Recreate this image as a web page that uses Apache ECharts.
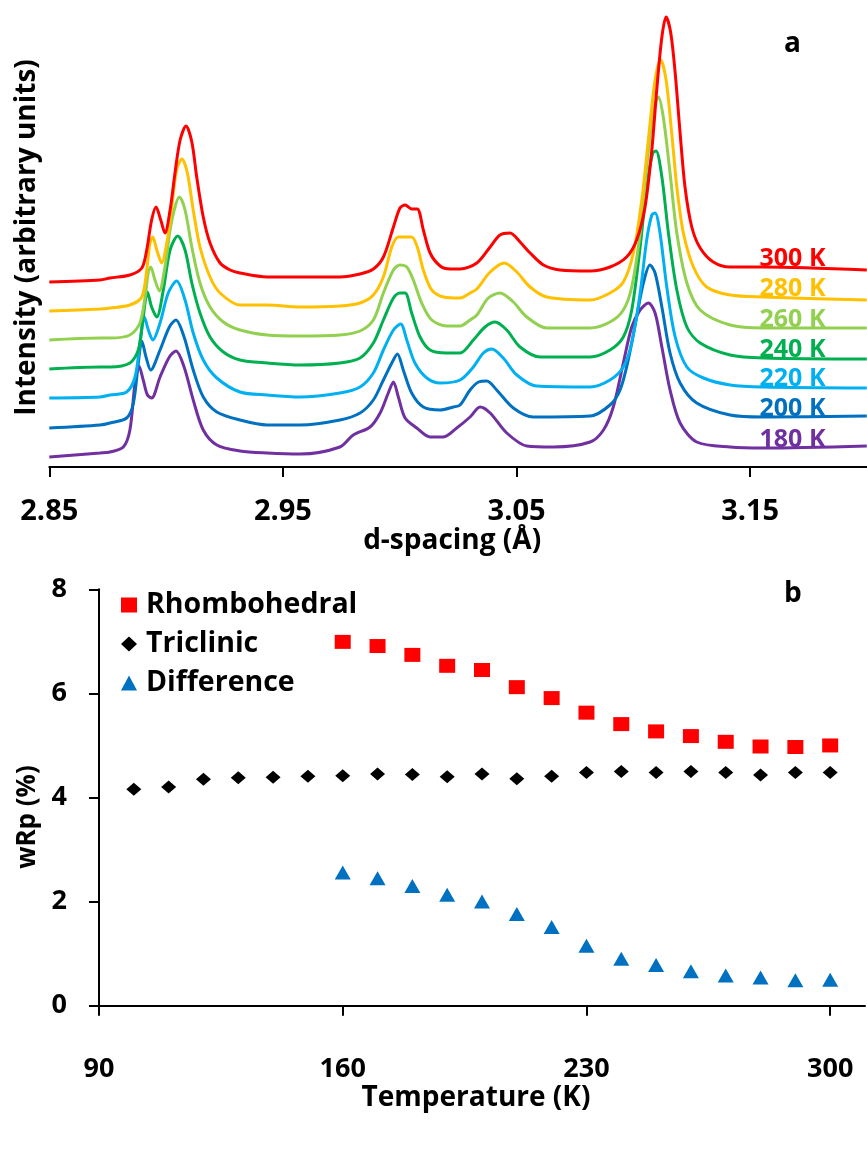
<!DOCTYPE html>
<html>
<head>
<meta charset="utf-8">
<script src="https://cdn.jsdelivr.net/npm/echarts@6/dist/echarts.min.js"></script>
<style>
html,body{margin:0;padding:0;background:#ffffff;}
#chart{width:867px;height:1153px;}
</style>
</head>
<body>
<div id="chart"></div>
<script>
// ---------- Panel a : diffraction patterns (d-spacing in Å, intensity in arbitrary units incl. stacking offset) ----------
const dTicks = [2.85, 2.95, 3.05, 3.15];
const spectrumNames = ['180 K', '200 K', '220 K', '240 K', '260 K', '280 K', '300 K'];
const spectrumColors = ['#7030A0', '#0070C0', '#00B0F0', '#00B050', '#92D050', '#FFC000', '#FF0000'];
const labelAtD = 3.1557;

const spec180 = [[2.8500,10],[2.8717,14],[2.8760,15],[2.8817,20],[2.8845,37],[2.8867,84],[2.8884,101],[2.8902,87],[2.8920,72],[2.8938,69],[2.8974,90],[2.9014,110],[2.9042,116],[2.9077,100],[2.9116,67],[2.9159,37],[2.9217,22],[2.9316,16],[2.9432,14],[2.9573,13],[2.9744,20],[2.9801,32],[2.9873,40],[2.9916,54],[2.9951,74],[2.9973,85],[2.9994,70],[3.0023,49],[3.0073,39],[3.0130,30],[3.0187,30],[3.0244,39],[3.0301,50],[3.0344,60],[3.0387,54],[3.0458,34],[3.0544,21],[3.0658,20],[3.0815,25],[3.0872,37],[3.0914,60],[3.0957,104],[3.0993,140],[3.1029,157],[3.1064,164],[3.1093,154],[3.1122,120],[3.1157,77],[3.1200,44],[3.1271,25],[3.1414,20],[3.1557,19],[3.1999,21]];

const spec200 = [[2.8500,39],[2.8717,42],[2.8760,44],[2.8831,49],[2.8860,64],[2.8881,104],[2.8896,126],[2.8914,110],[2.8934,97],[2.8974,117],[2.9014,140],[2.9042,147],[2.9077,130],[2.9116,97],[2.9159,70],[2.9217,55],[2.9316,47],[2.9432,42],[2.9573,42],[2.9744,47],[2.9830,54],[2.9887,67],[2.9930,87],[2.9966,104],[2.9990,113],[3.0015,97],[3.0051,74],[3.0101,60],[3.0173,57],[3.0229,60],[3.0258,62],[3.0301,77],[3.0337,85],[3.0373,86],[3.0415,77],[3.0486,59],[3.0572,50],[3.0815,51],[3.0900,62],[3.0943,77],[3.0978,107],[3.1014,150],[3.1043,184],[3.1071,202],[3.1093,194],[3.1122,160],[3.1157,114],[3.1200,84],[3.1271,64],[3.1414,52],[3.1557,50],[3.1999,51]];

const spec220 = [[2.8500,69],[2.8717,70],[2.8760,72],[2.8831,75],[2.8867,90],[2.8888,124],[2.8907,150],[2.8924,137],[2.8943,127],[2.8974,144],[2.9009,174],[2.9045,186],[2.9081,167],[2.9116,134],[2.9159,107],[2.9217,89],[2.9316,75],[2.9432,72],[2.9573,70],[2.9744,74],[2.9830,80],[2.9887,94],[2.9930,117],[2.9973,137],[3.0004,143],[3.0030,127],[3.0065,104],[3.0116,89],[3.0173,84],[3.0258,87],[3.0315,100],[3.0358,114],[3.0394,118],[3.0443,109],[3.0501,92],[3.0586,81],[3.0815,80],[3.0900,87],[3.0957,100],[3.0993,124],[3.1029,174],[3.1057,227],[3.1079,252],[3.1093,254],[3.1114,234],[3.1143,180],[3.1179,130],[3.1229,100],[3.1300,89],[3.1414,82],[3.1557,80],[3.1999,79]];

const spec240 = [[2.8500,98],[2.8717,100],[2.8760,100],[2.8845,104],[2.8881,117],[2.8902,150],[2.8920,175],[2.8938,160],[2.8960,150],[2.8988,177],[2.9017,217],[2.9050,231],[2.9081,217],[2.9110,184],[2.9145,154],[2.9188,130],[2.9245,115],[2.9316,107],[2.9432,104],[2.9573,102],[2.9744,104],[2.9830,109],[2.9887,124],[2.9930,147],[2.9973,169],[3.0001,174],[3.0023,174],[3.0051,154],[3.0087,130],[3.0130,117],[3.0201,114],[3.0258,114],[3.0315,127],[3.0365,140],[3.0408,145],[3.0458,137],[3.0515,120],[3.0601,110],[3.0815,110],[3.0900,117],[3.0957,130],[3.0993,157],[3.1029,220],[3.1057,280],[3.1083,314],[3.1097,316],[3.1122,290],[3.1150,234],[3.1186,177],[3.1229,140],[3.1286,124],[3.1414,112],[3.1557,109],[3.1999,108]];

const spec260 = [[2.8500,127],[2.8717,129],[2.8760,129],[2.8845,132],[2.8888,144],[2.8910,170],[2.8924,195],[2.8934,200],[2.8952,187],[2.8971,176],[2.8995,200],[2.9017,237],[2.9038,260],[2.9057,270],[2.9081,257],[2.9110,220],[2.9145,184],[2.9188,160],[2.9245,145],[2.9316,137],[2.9432,132],[2.9573,131],[2.9744,132],[2.9830,136],[2.9887,147],[2.9930,174],[2.9973,197],[3.0001,202],[3.0030,200],[3.0058,187],[3.0094,164],[3.0137,147],[3.0201,141],[3.0258,141],[3.0301,147],[3.0330,152],[3.0379,169],[3.0429,174],[3.0486,165],[3.0544,150],[3.0629,139],[3.0815,139],[3.0900,145],[3.0957,157],[3.0993,180],[3.1029,234],[3.1057,300],[3.1086,357],[3.1107,370],[3.1128,350],[3.1157,294],[3.1186,234],[3.1229,184],[3.1286,157],[3.1414,142],[3.1557,139],[3.1999,139]];

const spec280 = [[2.8500,156],[2.8717,158],[2.8760,159],[2.8845,162],[2.8896,170],[2.8917,197],[2.8931,224],[2.8943,230],[2.8960,217],[2.8981,204],[2.9003,224],[2.9024,260],[2.9045,297],[2.9068,308],[2.9091,294],[2.9116,257],[2.9145,220],[2.9188,190],[2.9231,174],[2.9316,162],[2.9432,162],[2.9573,160],[2.9744,161],[2.9830,164],[2.9887,172],[2.9930,190],[2.9966,220],[2.9994,230],[3.0023,230],[3.0051,230],[3.0075,220],[3.0101,197],[3.0137,177],[3.0187,170],[3.0258,169],[3.0301,174],[3.0330,178],[3.0387,195],[3.0448,204],[3.0501,195],[3.0558,180],[3.0629,170],[3.0815,167],[3.0900,174],[3.0957,185],[3.1000,214],[3.1036,267],[3.1064,327],[3.1093,387],[3.1117,407],[3.1140,387],[3.1164,334],[3.1186,280],[3.1214,234],[3.1257,200],[3.1314,180],[3.1414,172],[3.1557,170],[3.1999,167]];

const spec300 = [[2.8500,185],[2.8717,187],[2.8760,189],[2.8845,192],[2.8896,199],[2.8917,217],[2.8938,247],[2.8957,260],[2.8977,247],[2.8995,234],[2.9017,257],[2.9038,294],[2.9060,327],[2.9085,341],[2.9110,325],[2.9131,290],[2.9159,250],[2.9188,224],[2.9231,204],[2.9274,197],[2.9316,194],[2.9432,190],[2.9573,190],[2.9744,190],[2.9830,193],[2.9887,198],[2.9930,210],[2.9973,240],[3.0001,259],[3.0023,262],[3.0051,258],[3.0075,258],[3.0101,237],[3.0130,214],[3.0173,201],[3.0215,198],[3.0258,198],[3.0330,204],[3.0387,220],[3.0429,232],[3.0472,234],[3.0515,225],[3.0558,214],[3.0615,202],[3.0686,197],[3.0815,196],[3.0900,200],[3.0971,210],[3.1014,227],[3.1050,260],[3.1079,317],[3.1100,377],[3.1122,430],[3.1140,450],[3.1160,434],[3.1179,394],[3.1200,334],[3.1221,280],[3.1250,240],[3.1286,219],[3.1342,205],[3.1414,200],[3.1557,200],[3.1999,197]];

const spectra = [spec180, spec200, spec220, spec240, spec260, spec280, spec300];

// ---------- Panel b : refinement wRp (%) vs temperature (K) ----------
const tempTicks = [90, 160, 230, 300];
const triclinicT = [100,110,120,130,140,150,160,170,180,190,200,210,220,230,240,250,260,270,280,290,300];
const triclinicWRp = [4.16,4.20,4.35,4.38,4.39,4.41,4.42,4.45,4.44,4.40,4.45,4.36,4.41,4.48,4.50,4.48,4.50,4.48,4.43,4.48,4.48];
const rhombT = [160,170,180,190,200,210,220,230,240,250,260,270,280,290,300];
const rhombWRp = [6.99,6.91,6.74,6.53,6.45,6.12,5.91,5.63,5.41,5.27,5.18,5.07,4.98,4.97,5.00];
const differenceWRp = [2.56,2.45,2.30,2.13,2.00,1.76,1.51,1.15,0.90,0.78,0.66,0.58,0.54,0.49,0.50];

const FONT = 'Open Sans';
const black = '#000000';

const spectrumSeries = spectra.map(function (pts, i) {
  const anchor = pts.filter(function (p) { return Math.abs(p[0] - labelAtD) < 1e-6; })[0];
  return {
    name: spectrumNames[i],
    type: 'line',
    xAxisIndex: 0,
    yAxisIndex: 0,
    showSymbol: false,
    smooth: 0.3,
    lineStyle: { width: 3, color: spectrumColors[i] },
    itemStyle: { color: spectrumColors[i] },
    emphasis: { disabled: true },
    z: 2 + i,
    data: pts,
    markPoint: {
      silent: true,
      symbol: 'circle',
      symbolSize: 2,
      itemStyle: { color: 'rgba(0,0,0,0)' },
      label: {
        show: true, position: 'top', distance: 0, offset: [29, 5],
        formatter: spectrumNames[i],
        color: spectrumColors[i], fontFamily: FONT, fontWeight: 'bold', fontSize: 25
      },
      data: [{ coord: anchor }]
    }
  };
});

const option = {
  animation: false,
  backgroundColor: '#ffffff',
  textStyle: { fontFamily: FONT },
  title: [
    { text: 'a', left: 779, top: 25, textStyle: { fontFamily: FONT, fontWeight: 'bold', fontSize: 28, color: black } },
    { text: 'b', left: 779, top: 575, textStyle: { fontFamily: FONT, fontWeight: 'bold', fontSize: 28, color: black } }
  ],
  graphic: [
    {
      type: 'text', x: 28, y: 817, rotation: Math.PI / 2,
      style: { text: 'wRp (%)', fontFamily: FONT, fontWeight: 'bold', fontSize: 26, fill: black, align: 'center', verticalAlign: 'middle' }
    }
  ],
  legend: {
    orient: 'vertical',
    left: 116,
    top: 585,
    itemWidth: 16,
    itemHeight: 15,
    itemGap: 9,
    textStyle: { fontFamily: FONT, fontWeight: 'bold', fontSize: 28.5, color: black, lineHeight: 30, padding: [0, 0, 0, 4] },
    data: [
      { name: 'Rhombohedral', icon: 'rect' },
      { name: 'Triclinic', icon: 'diamond' },
      { name: 'Difference', icon: 'triangle' }
    ]
  },
  grid: [
    { left: 49.3, top: 0, width: 817.7, height: 467 },
    { left: 99, top: 589.3, width: 766, height: 416.4 }
  ],
  xAxis: [
    {
      gridIndex: 0, type: 'value', min: 2.85, max: 3.2,
      name: 'd-spacing (Å)', nameLocation: 'middle', nameGap: 56,
      nameTextStyle: { fontFamily: FONT, fontWeight: 'bold', fontSize: 28, color: black, padding: [0, 12, 0, 0] },
      axisLine: { show: true, lineStyle: { color: black, width: 2 } },
      axisTick: { show: true, inside: false, length: 10, customValues: dTicks, lineStyle: { color: black, width: 2 } },
      axisLabel: { show: true, customValues: dTicks, margin: 30, fontFamily: FONT, fontWeight: 'bold', fontSize: 29, color: black,
        formatter: function (v) { return v.toFixed(2); } },
      splitLine: { show: false }
    },
    {
      gridIndex: 1, type: 'value', min: 90, max: 310,
      name: 'Temperature (K)', nameLocation: 'middle', nameGap: 71,
      nameTextStyle: { fontFamily: FONT, fontWeight: 'bold', fontSize: 28, color: black, padding: [0, 12, 0, 0] },
      axisLine: { show: true, onZero: false, lineStyle: { color: black, width: 2 } },
      axisTick: { show: true, inside: false, length: 10, customValues: tempTicks, lineStyle: { color: black, width: 2 } },
      axisLabel: { show: true, customValues: tempTicks, margin: 50, fontFamily: FONT, fontWeight: 'bold', fontSize: 27, color: black },
      splitLine: { show: false }
    }
  ],
  yAxis: [
    {
      gridIndex: 0, type: 'value', min: 0, max: 467,
      name: 'Intensity (arbitrary units)', nameLocation: 'middle', nameGap: 8,
      nameTextStyle: { fontFamily: FONT, fontWeight: 'bold', fontSize: 28, color: black, padding: [0, 8, 0, 0] },
      axisLine: { show: false }, axisTick: { show: false }, axisLabel: { show: false }, splitLine: { show: false }
    },
    {
      gridIndex: 1, type: 'value', min: 0, max: 8, interval: 2,
      axisLine: { show: true, lineStyle: { color: black, width: 2 } },
      axisTick: { show: true, inside: false, length: 10, lineStyle: { color: black, width: 2 } },
      axisLabel: { show: true, margin: 32, fontFamily: FONT, fontWeight: 'bold', fontSize: 27, color: black },
      splitLine: { show: false }
    }
  ],
  series: spectrumSeries.concat([
    {
      name: 'Rhombohedral', type: 'scatter', xAxisIndex: 1, yAxisIndex: 1,
      symbol: 'rect', symbolSize: [16, 14], itemStyle: { color: '#FF0000', opacity: 1 },
      data: rhombT.map(function (t, i) { return [t, rhombWRp[i]]; })
    },
    {
      name: 'Triclinic', type: 'scatter', xAxisIndex: 1, yAxisIndex: 1,
      symbol: 'diamond', symbolSize: [15, 13], itemStyle: { color: '#000000', opacity: 1 },
      data: triclinicT.map(function (t, i) { return [t, triclinicWRp[i]]; })
    },
    {
      name: 'Difference', type: 'scatter', xAxisIndex: 1, yAxisIndex: 1,
      symbol: 'triangle', symbolSize: [16, 14], itemStyle: { color: '#0070C0', opacity: 1 },
      data: rhombT.map(function (t, i) { return [t, differenceWRp[i]]; })
    }
  ])
};

const chart = echarts.init(document.getElementById('chart'), null, { renderer: 'canvas', width: 867, height: 1153 });
chart.setOption(option);
</script>
</body>
</html>
